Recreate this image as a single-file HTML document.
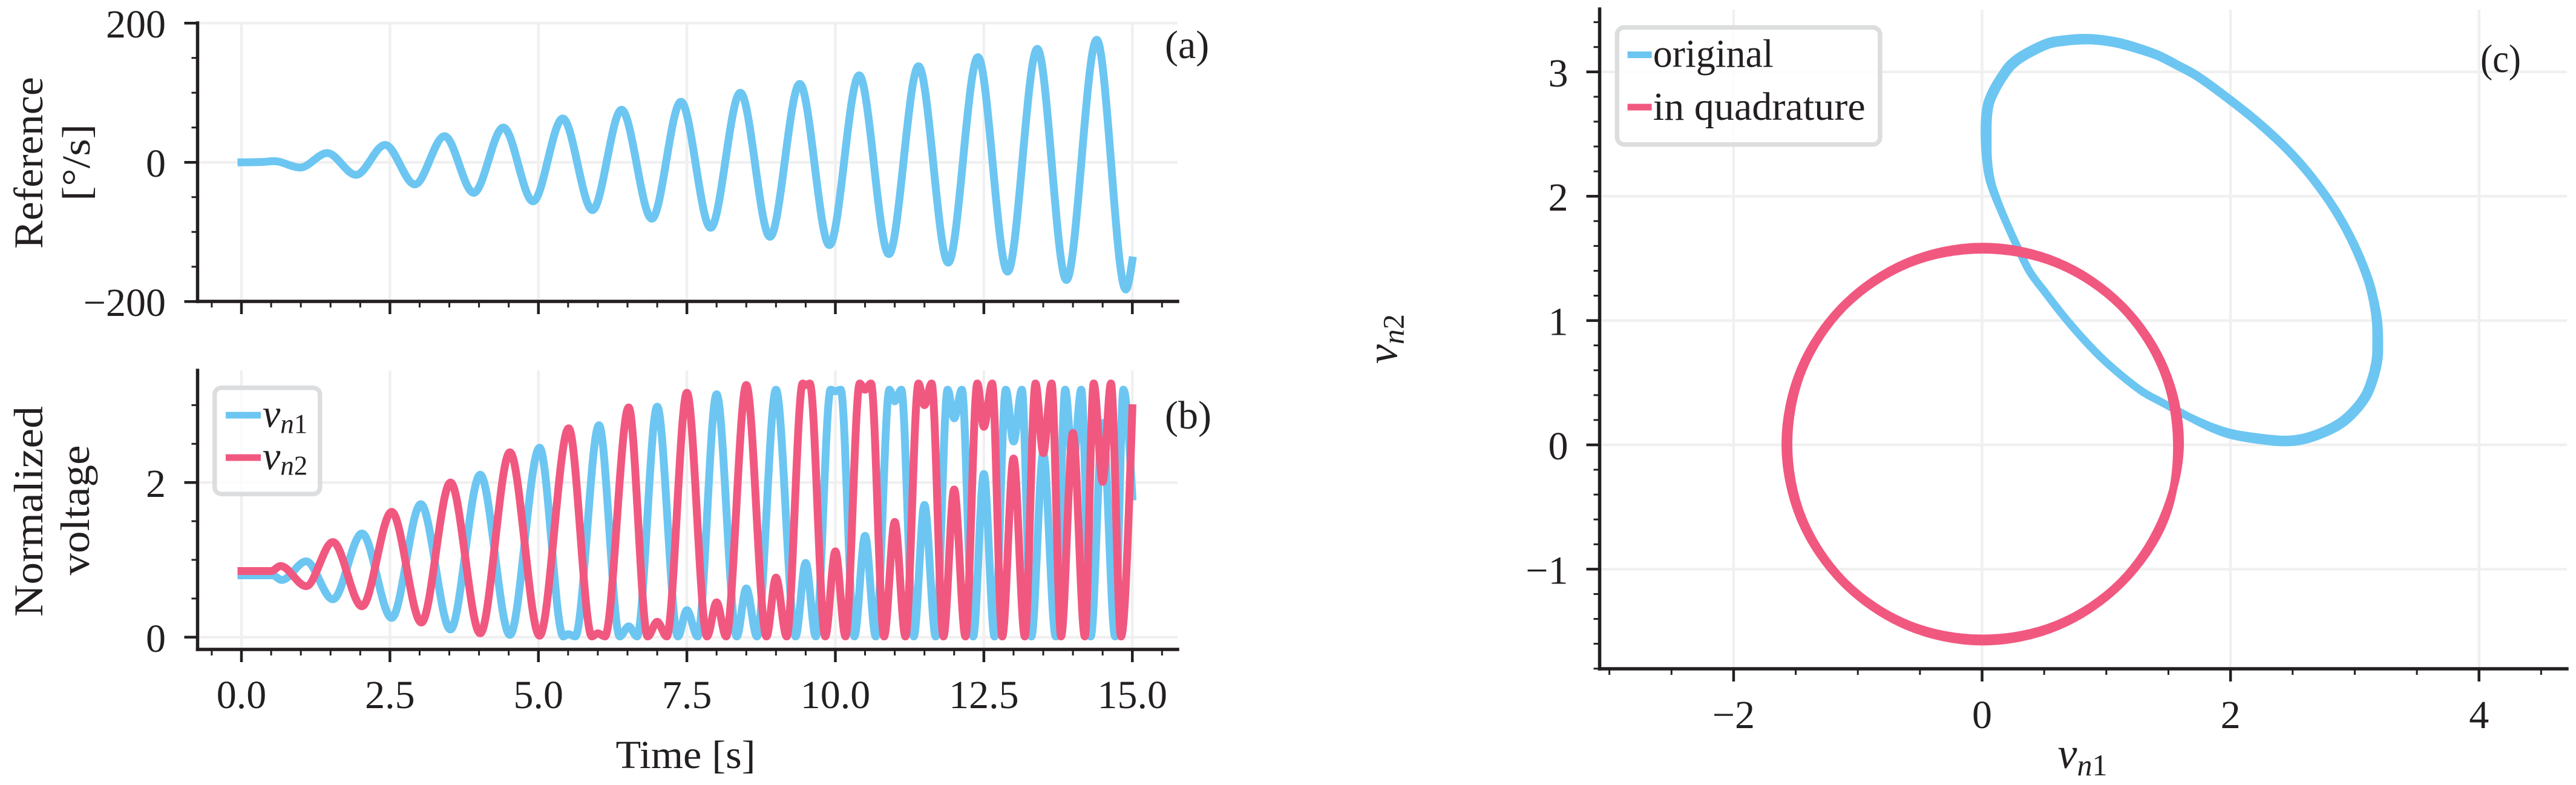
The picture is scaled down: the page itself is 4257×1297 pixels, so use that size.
<!DOCTYPE html>
<html lang="en">
<head>
<meta charset="utf-8">
<title>Reference, normalized voltage and Lissajous chart</title>
<style>
html,body{margin:0;padding:0;background:#fff;}
svg{display:block;position:absolute;left:0;top:0;}
text{font-family:"Liberation Serif",serif;font-size:66px;fill:#231f20;}
.it{font-style:italic;}
.sub{font-size:45px;}
.vbig{font-size:72px;}
.subbig{font-size:50px;}
.sp{stroke:#231f20;stroke-width:5.5;stroke-linecap:square;fill:none;}
.s{fill:none;stroke-width:13;stroke-linejoin:round;}
.leg{fill:#fff;fill-opacity:.8;stroke:#dcddde;stroke-width:7.5;}
</style>
</head>
<body>
<svg xmlns="http://www.w3.org/2000/svg" width="4257" height="1297" viewBox="0 0 4257 1297">
  <rect x="0" y="0" width="4257" height="1297" fill="#fff"/>

  <g id="panel-a">
    <g id="grid-a"></g>
    <path id="line-ref" class="s" stroke="#6cc6f1" stroke-linecap="square"/>
    <g id="axes-a"></g>
    <line class="sp" x1="326.5" y1="38" x2="326.5" y2="498"/>
    <line class="sp" x1="326.5" y1="498" x2="1946" y2="498"/>
    <text transform="translate(70 269) rotate(-90)" text-anchor="middle" textLength="284" lengthAdjust="spacingAndGlyphs" style="font-size:68px">Reference</text>
    <text transform="translate(148 268.5) rotate(-90)" text-anchor="middle" textLength="127" lengthAdjust="spacingAndGlyphs">[°/s]</text>
    <text x="1925" y="96">(a)</text>
  </g>

  <g id="panel-b">
    <g id="grid-b"></g>
    <path id="line-v1" class="s" stroke="#6cc6f1" stroke-linecap="square"/>
    <path id="line-v2" class="s" stroke="#f15880" stroke-linecap="square"/>
    <g id="axes-b"></g>
    <line class="sp" x1="326.5" y1="612" x2="326.5" y2="1073"/>
    <line class="sp" x1="326.5" y1="1073" x2="1946" y2="1073"/>
    <text transform="translate(70 845) rotate(-90)" text-anchor="middle" textLength="348" lengthAdjust="spacingAndGlyphs" style="font-size:68px">Normalized</text>
    <text transform="translate(147 843) rotate(-90)" text-anchor="middle" textLength="215" lengthAdjust="spacingAndGlyphs" style="font-size:68px">voltage</text>
    <text x="1133" y="1269" text-anchor="middle" textLength="231" lengthAdjust="spacingAndGlyphs">Time [s]</text>
    <text x="1925" y="708">(b)</text>
    <g>
      <rect class="leg" x="354.75" y="640.75" width="174" height="175.5" rx="11" ry="11"/>
      <line x1="373" y1="686" x2="431" y2="686" stroke="#6cc6f1" stroke-width="11"/>
      <line x1="373" y1="756" x2="431" y2="756" stroke="#f15880" stroke-width="11"/>
      <text x="434" y="705.5"><tspan class="it">v</tspan><tspan class="it sub" dy="10">n</tspan><tspan class="sub">1</tspan></text>
      <text x="434" y="775.5"><tspan class="it">v</tspan><tspan class="it sub" dy="9">n</tspan><tspan class="sub">2</tspan></text>
    </g>
  </g>

  <g id="panel-c">
    <g id="grid-c"></g>
    <path id="line-orig" class="s" stroke="#6cc6f1"/>
    <path id="line-quad" class="s" stroke="#f15880"/>
    <g id="axes-c"></g>
    <line class="sp" x1="2643.5" y1="15" x2="2643.5" y2="1105"/>
    <line class="sp" x1="2643.5" y1="1105" x2="4242" y2="1105"/>
    <text x="3441.5" y="1269" text-anchor="middle"><tspan class="it vbig">v</tspan><tspan class="it subbig" dy="12">n</tspan><tspan class="subbig">1</tspan></text>
    <text transform="translate(2308.5 560) rotate(-90)" text-anchor="middle"><tspan class="it vbig">v</tspan><tspan class="it subbig" dy="11">n</tspan><tspan class="subbig">2</tspan></text>
    <text x="4099" y="119" textLength="67" lengthAdjust="spacingAndGlyphs">(c)</text>
    <g>
      <rect class="leg" x="2672.3" y="45.2" width="434.6" height="193.6" rx="12" ry="12"/>
      <line x1="2689.6" y1="90.5" x2="2729.6" y2="90.5" stroke="#6cc6f1" stroke-width="11"/>
      <line x1="2689.6" y1="177" x2="2729.6" y2="177" stroke="#f15880" stroke-width="11"/>
      <text x="2731.7" y="110.7" textLength="199" lengthAdjust="spacingAndGlyphs">original</text>
      <text x="2731.7" y="198" textLength="351" lengthAdjust="spacingAndGlyphs">in quadrature</text>
    </g>
  </g>
</svg>

<script>
// ---- Panel (a): reference, turning points ----
const refT = [0, .35, .55, .99, 1.445, 1.93, 2.42, 2.92, 3.42, 3.91, 4.41, 4.91, 5.41, 5.91, 6.40, 6.91, 7.40, 7.90, 8.40, 8.90, 9.40, 9.90, 10.40, 10.90, 11.40, 11.90, 12.40, 12.90, 13.40, 13.89, 14.40, 14.89, 15];
const refV = [0, .5, 1.7, -7.5, 13.3, -18, 25, -31.7, 37.6, -43.8, 50, -56, 63, -68.6, 75.5, -81, 87, -94, 100, -107, 112.7, -119, 125, -131.7, 138, -144, 151, -157, 163, -169, 176, -182.6, -141];

// ---- Panel (b): normalized voltages ----
const v1T = [
  0, .52, .68, 1.09, 1.54, 2.03, 2.53, 3.02, 3.52, 4.02, 4.52, 5.02,
  5.42, 5.5, 5.62, 6.02,
  6.37, 6.52, 6.66, 7.0,
  7.35, 7.5, 7.68, 8.0,
  8.34, 8.5, 8.68, 9.0,
  9.33, 9.5, 9.67, 9.92, 10.0, 10.09,
  10.32, 10.5, 10.68, 10.91, 11.0, 11.11,
  11.32, 11.5, 11.69, 11.89, 12.0, 12.13,
  12.32, 12.5, 12.68, 12.87, 13.0, 13.14,
  13.3, 13.5, 13.71, 13.87, 14.0, 14.14,
  14.3, 14.5, 14.71, 14.85, 15
];
const v1V = [
  .80, .80, .74, .98, .49, 1.34, .25, 1.72, .10, 2.10, .03, 2.45,
  .01, .04, .01, 2.74,
  .01, .14, .01, 2.98,
  .01, .35, .01, 3.14,
  .01, .63, .01, 3.2,
  .01, .96, .01, 3.2, 3.18, 3.2,
  .01, 1.31, .01, 3.2, 3.05, 3.2,
  .01, 1.71, .01, 3.2, 2.83, 3.2,
  .01, 2.11, .01, 3.2, 2.53, 3.2,
  .01, 2.38, .01, 3.2, 2.2, 3.2,
  .01, 2.77, .01, 3.2, 1.82
];
const v2T = [
  0, .5, .66, 1.09, 1.54, 2.03, 2.53, 3.03, 3.52, 4.02, 4.52, 5.02, 5.51,
  5.9, 6.0, 6.12, 6.52,
  6.84, 7.0, 7.16, 7.5,
  7.84, 8.0, 8.16, 8.5,
  8.84, 9.0, 9.18, 9.45, 9.5, 9.57,
  9.83, 10.0, 10.17, 10.41, 10.5, 10.6,
  10.82, 11.0, 11.18, 11.4, 11.5, 11.62,
  11.82, 12.0, 12.19, 12.39, 12.5, 12.64,
  12.81, 13.0, 13.19, 13.37, 13.5, 13.64,
  13.8, 14.0, 14.2, 14.35, 14.5, 14.64,
  14.81, 15
];
const v2V = [
  .855, .855, .92, .66, 1.23, .40, 1.62, .19, 2.0, .05, 2.39, .02, 2.70,
  .01, .05, .01, 2.97,
  .01, .20, .01, 3.16,
  .01, .45, .01, 3.26,
  .01, .77, .01, 3.28, 3.26, 3.28,
  .01, 1.11, .01, 3.28, 3.2, 3.28,
  .01, 1.49, .01, 3.28, 3.0, 3.28,
  .01, 1.91, .01, 3.28, 2.72, 3.28,
  .01, 2.31, .01, 3.28, 2.38, 3.28,
  .01, 2.64, .01, 3.28, 2.01, 3.28,
  .01, 2.96
];

// ---- Panel (c): phase-plane loops, two laps each (laps meet on the thin lower-left stretch) ----
const origX = [
  1.662, 1.434, 1.288, 1.11, .947, .785, .647, .509, .387, .29, .19, .103, .058, .032,
  .021, .023, .043, .093, .165, .228, .342, .522, .654, .801, .932, 1.096, 1.259, 1.421, 1.584, 1.746, 2.005, 2.235, 2.466, 2.663, 2.844, 2.993, 3.11, 3.162, 3.19, 3.197, 3.192, 3.159, 3.101, 3.001, 2.886, 2.721, 2.557, 2.393, 2.148, 1.984, 1.822,
  1.662, 1.434, 1.288, 1.11, .947, .785, .647, .509, .387, .29, .19, .109, .07, .048,
  .045, .047, .065, .113, .181, .244, .352, .528, .656, .801, .93, 1.092, 1.253, 1.415, 1.578, 1.74, 1.999, 2.229, 2.46, 2.657, 2.838, 2.985, 3.1, 3.148, 3.17, 3.173, 3.168, 3.137, 3.081, 2.985, 2.874, 2.713, 2.553, 2.393, 2.15, 1.988, 1.826
];
const origY = [
  .227, .349, .43, .568, .714, .885, 1.047, 1.225, 1.388, 1.58, 1.80, 2.005, 2.136, 2.296,
  2.459, 2.623, 2.755, 2.87, 2.986, 3.068, 3.151, 3.237, 3.262, 3.274, 3.269, 3.243, 3.197, 3.138, 3.054, 2.963, 2.773, 2.588, 2.373, 2.147, 1.892, 1.622, 1.34, 1.145, .982, .819, .688, .541, .393, .26, .16, .079, .03, .021, .05, .084, .146,
  .227, .349, .43, .568, .714, .885, 1.047, 1.225, 1.388, 1.58, 1.80, 2.003, 2.132, 2.296,
  2.459, 2.619, 2.747, 2.858, 2.97, 3.05, 3.129, 3.215, 3.24, 3.252, 3.249, 3.225, 3.181, 3.126, 3.044, 2.955, 2.767, 2.582, 2.367, 2.143, 1.888, 1.618, 1.336, 1.143, .982, .819, .692, .547, .403, .276, .18, .099, .052, .043, .07, .1, .154
];
const quadX = [
  1.593, 1.469, 1.123, .612, .005, -.602, -1.113, -1.459, -1.583, -1.459, -1.113, -.602, .005, .612, 1.123, 1.469,
  1.569, 1.455, 1.116, .605, .005, -.595, -1.106, -1.445, -1.559, -1.445, -1.106, -.595, .005, .605, 1.116, 1.455
];
const quadY = [
  .006, .613, 1.124, 1.47, 1.594, 1.47, 1.124, .613, .006, -.601, -1.112, -1.458, -1.582, -1.458, -1.112, -.601,
  .006, .606, 1.117, 1.456, 1.57, 1.456, 1.117, .606, .006, -.594, -1.105, -1.444, -1.558, -1.444, -1.105, -.594
];

// ---- Tick values and labels ----
const timeTicks = [0, 2.5, 5, 7.5, 10, 12.5, 15];
const timeLabels = ['0.0', '2.5', '5.0', '7.5', '10.0', '12.5', '15.0'];
const timeMinor = [-.5, .5, 1, 1.5, 2, 3, 3.5, 4, 4.5, 5.5, 6, 6.5, 7, 8, 8.5, 9, 9.5, 10.5, 11, 11.5, 12, 13, 13.5, 14, 14.5, 15.5];
const refTicks = [-200, 0, 200];
const refLabels = ['−200', '0', '200'];
const refMinor = [-150, -100, -50, 50, 100, 150];
const voltTicks = [0, 2];
const voltLabels = ['0', '2'];
const voltMinor = [.5, 1, 1.5, 2.5, 3];
const cXTicks = [-2, 0, 2, 4];
const cXLabels = ['−2', '0', '2', '4'];
const cXMinor = [-3, -2.5, -1.5, -1, -.5, .5, 1, 1.5, 2.5, 3, 3.5, 4.5];
const cYTicks = [-1, 0, 1, 2, 3];
const cYLabels = ['−1', '0', '1', '2', '3'];
const cYMinor = [-1.8, -1.6, -1.4, -1.2, -.8, -.6, -.4, -.2, .2, .4, .6, .8, 1.2, 1.4, 1.6, 1.8, 2.2, 2.4, 2.6, 2.8, 3.2, 3.4];

// ---- Axis functions ----
const xTime = t => 399 + t * 98.15;
const yRef = v => 268.2 - v * 1.15;
const yVolt = v => 1052.8 - v * 127.8;
const xC = v => 3275.5 + v * 205.3;
const yC = v => 735 - v * 205.4;

const NS = 'http://www.w3.org/2000/svg';

function addLine(parent, x1, y1, x2, y2, color, width) {
  const el = document.createElementNS(NS, 'line');
  el.setAttribute('x1', x1);
  el.setAttribute('y1', y1);
  el.setAttribute('x2', x2);
  el.setAttribute('y2', y2);
  el.setAttribute('stroke', color);
  el.setAttribute('stroke-width', width);
  parent.appendChild(el);
  return el;
}

function addGridLine(parent, x1, y1, x2, y2) {
  const el = addLine(parent, x1, y1, x2, y2, '#f0f0f0', 4.5);
  
  
}

function addTick(parent, x1, y1, x2, y2, width) {
  const el = addLine(parent, x1, y1, x2, y2, '#231f20', width);
  
  
}

function addTickLabel(parent, x, y, anchor, str) {
  const el = document.createElementNS(NS, 'text');
  el.setAttribute('x', x);
  el.setAttribute('y', y);
  el.setAttribute('text-anchor', anchor);
  el.textContent = str;
  
  
  parent.appendChild(el);
}

function drawAxes(id, o) {
  const grid = document.getElementById('grid-' + id);
  const axes = document.getElementById('axes-' + id);
  o.xTicks.forEach(v => addGridLine(grid, o.x(v), o.top, o.x(v), o.bottom));
  o.yTicks.forEach(v => addGridLine(grid, o.left, o.y(v), o.right, o.y(v)));
  o.xTicks.forEach((v, i) => {
    addTick(axes, o.x(v), o.bottom, o.x(v), o.bottom + 21, 4.5);
    if (o.xLabels) addTickLabel(axes, o.x(v), o.xLabelY, 'middle', o.xLabels[i]);
  });
  o.xMinor.forEach(v => addTick(axes, o.x(v), o.bottom, o.x(v), o.bottom + 10, 3));
  o.yTicks.forEach((v, i) => {
    addTick(axes, o.left, o.y(v), o.left - 22, o.y(v), 4.5);
    addTickLabel(axes, o.yLabelX, o.y(v) + 24, 'end', o.yLabels[i]);
  });
  o.yMinor.forEach(v => addTick(axes, o.left, o.y(v), o.left - 10, o.y(v), 3));
}

drawAxes('a', {x: xTime, y: yRef, xTicks: timeTicks, xLabels: null, xMinor: timeMinor, yTicks: refTicks, yLabels: refLabels, yMinor: refMinor, left: 326.5, right: 1946, top: 38, bottom: 498, yLabelX: 274});
drawAxes('b', {x: xTime, y: yVolt, xTicks: timeTicks, xLabels: timeLabels, xMinor: timeMinor, yTicks: voltTicks, yLabels: voltLabels, yMinor: voltMinor, left: 326.5, right: 1946, top: 612, bottom: 1073, xLabelY: 1170, yLabelX: 274});
drawAxes('c', {x: xC, y: yC, xTicks: cXTicks, xLabels: cXLabels, xMinor: cXMinor, yTicks: cYTicks, yLabels: cYLabels, yMinor: cYMinor, left: 2643.5, right: 4242, top: 16, bottom: 1105, xLabelY: 1203, yLabelX: 2591.5});

// Monotone cubic through the turning points (horizontal tangents at extrema)
function monoPath(ts, vs, xf, yf) {
  const n = Math.min(ts.length, vs.length);
  const X = [], Y = [];
  for (let i = 0; i < n; i++) { X.push(xf(ts[i])); Y.push(yf(vs[i])); }
  const sgn = a => a < 0 ? -1 : 1;
  const m = new Array(n).fill(0);
  for (let i = 1; i < n - 1; i++) {
    const h0 = X[i] - X[i - 1], h1 = X[i + 1] - X[i];
    const s0 = (Y[i] - Y[i - 1]) / h0, s1 = (Y[i + 1] - Y[i]) / h1;
    const p = (s0 * h1 + s1 * h0) / (h0 + h1);
    m[i] = (sgn(s0) + sgn(s1)) * Math.min(Math.abs(s0), Math.abs(s1), .5 * Math.abs(p)) || 0;
  }
  m[0] = (3 * (Y[1] - Y[0]) / (X[1] - X[0]) - m[1]) / 2;
  m[n - 1] = (3 * (Y[n - 1] - Y[n - 2]) / (X[n - 1] - X[n - 2]) - m[n - 2]) / 2;
  let d = 'M' + X[0].toFixed(2) + ' ' + Y[0].toFixed(2);
  for (let i = 0; i < n - 1; i++) {
    const dx = (X[i + 1] - X[i]) / 3;
    d += 'C' + (X[i] + dx).toFixed(2) + ' ' + (Y[i] + m[i] * dx).toFixed(2) + ' ' +
         (X[i + 1] - dx).toFixed(2) + ' ' + (Y[i + 1] - m[i + 1] * dx).toFixed(2) + ' ' +
         X[i + 1].toFixed(2) + ' ' + Y[i + 1].toFixed(2);
  }
  return d;
}

// Closed Catmull-Rom through the loop samples
function loopPath(xs, ys, xf, yf) {
  const n = Math.min(xs.length, ys.length);
  const P = [];
  for (let i = 0; i < n; i++) P.push([xf(xs[i]), yf(ys[i])]);
  let d = 'M' + P[0][0].toFixed(2) + ' ' + P[0][1].toFixed(2);
  for (let i = 0; i < n; i++) {
    const p0 = P[(i - 1 + n) % n], p1 = P[i], p2 = P[(i + 1) % n], p3 = P[(i + 2) % n];
    d += 'C' + (p1[0] + (p2[0] - p0[0]) / 6).toFixed(2) + ' ' + (p1[1] + (p2[1] - p0[1]) / 6).toFixed(2) + ' ' +
         (p2[0] - (p3[0] - p1[0]) / 6).toFixed(2) + ' ' + (p2[1] - (p3[1] - p1[1]) / 6).toFixed(2) + ' ' +
         p2[0].toFixed(2) + ' ' + p2[1].toFixed(2);
  }
  return d + 'Z';
}

document.getElementById('line-ref').setAttribute('d', monoPath(refT, refV, xTime, yRef));
document.getElementById('line-v1').setAttribute('d', monoPath(v1T, v1V, xTime, yVolt));
document.getElementById('line-v2').setAttribute('d', monoPath(v2T, v2V, xTime, yVolt));
document.getElementById('line-orig').setAttribute('d', loopPath(origX, origY, xC, yC));
document.getElementById('line-quad').setAttribute('d', loopPath(quadX, quadY, xC, yC));
</script>
</body>
</html>
